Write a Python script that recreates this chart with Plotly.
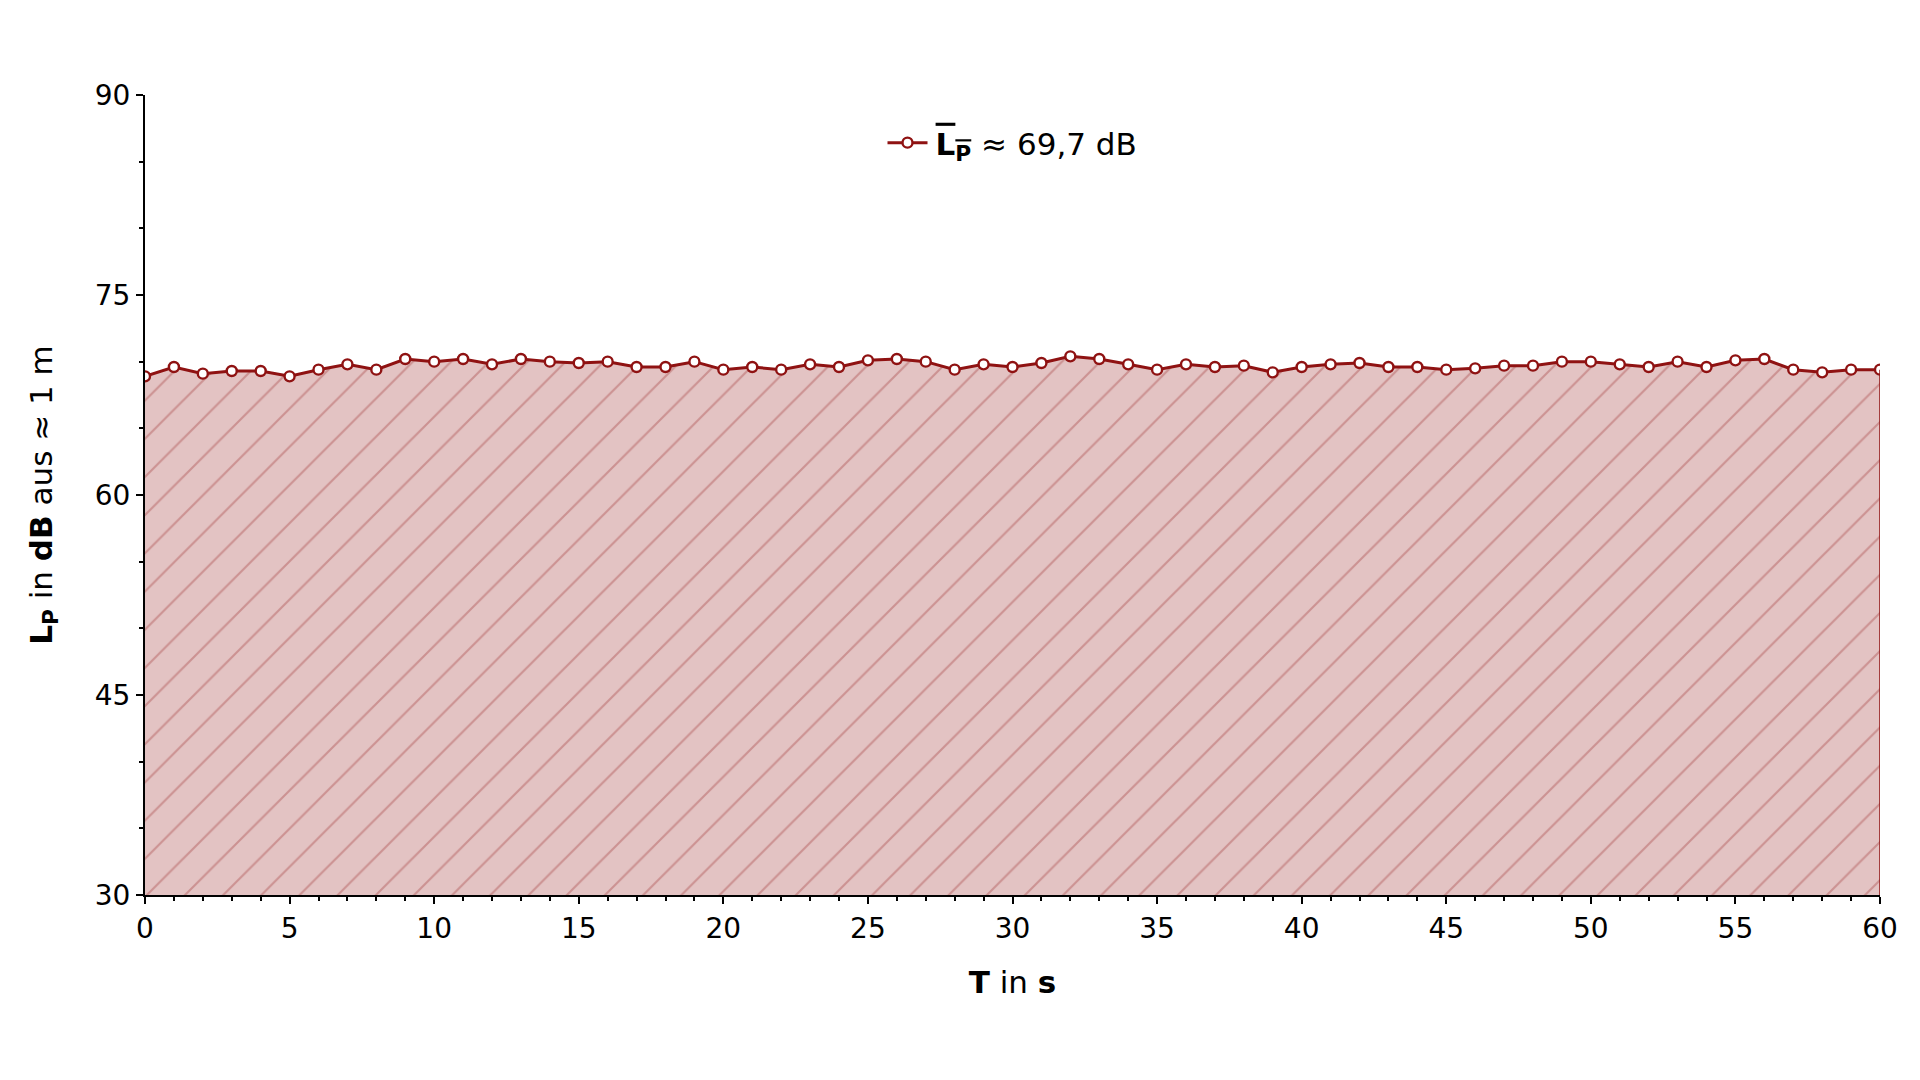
import plotly.graph_objects as go

# Schalldruckpegel ueber 60 s, jede Sekunde ein Messwert
zeit_s = list(range(0, 61))
pegel_db = [
    68.9, 69.6, 69.1, 69.3, 69.3, 68.9, 69.4, 69.8, 69.4, 70.2,
    70.0, 70.2, 69.8, 70.2, 70.0, 69.9, 70.0, 69.6, 69.6, 70.0,
    69.4, 69.6, 69.4, 69.8, 69.6, 70.1, 70.2, 70.0, 69.4, 69.8,
    69.6, 69.9, 70.4, 70.2, 69.8, 69.4, 69.8, 69.6, 69.7, 69.2,
    69.6, 69.8, 69.9, 69.6, 69.6, 69.4, 69.5, 69.7, 69.7, 70.0,
    70.0, 69.8, 69.6, 70.0, 69.6, 70.1, 70.2, 69.4, 69.2, 69.4,
    69.4,
]
mittel_label = '&#8202;<span style="text-decoration:overline"><b>L<sub>P</sub></b></span> ≈ 69,7 dB'

x_ticks = [0, 5, 10, 15, 20, 25, 30, 35, 40, 45, 50, 55, 60]
y_ticks = [30, 45, 60, 75, 90]

dunkelrot = "#8f1212"

fig = go.Figure()
# schraffierte Flaeche unter der Kurve (ohne Legende)
fig.add_trace(go.Scatter(
    x=zeit_s, y=pegel_db,
    mode="none",
    showlegend=False,
    fill="tozeroy",
    fillcolor="#e3c3c3",
    fillpattern=dict(shape="/", size=27, solidity=0.08,
                     fgcolor="#cc9292", bgcolor="#e3c3c3", fillmode="replace"),
    hoverinfo="skip",
))
fig.add_trace(go.Scatter(
    x=zeit_s, y=pegel_db,
    mode="lines+markers",
    name=mittel_label,
    line=dict(color=dunkelrot, width=3),
    marker=dict(symbol="circle", size=10, color="white",
                line=dict(color=dunkelrot, width=2.4)),
))

# rechte Kante der Flaeche
fig.add_shape(type="line", x0=zeit_s[-1], x1=zeit_s[-1], y0=y_ticks[0], y1=pegel_db[-1],
              xref="x", yref="y", line=dict(color=dunkelrot, width=1.5), layer="above")

fig.update_layout(
    width=1920, height=1080,
    margin=dict(l=137, r=48, t=87, b=193),
    paper_bgcolor="white", plot_bgcolor="white",
    font=dict(family="DejaVu Sans", size=28, color="black"),
    showlegend=True,
    legend=dict(x=0.5, y=0.94, xanchor="center", yanchor="middle",
                orientation="h", font=dict(size=31), bgcolor="rgba(0,0,0,0)",
                itemwidth=40),
    xaxis=dict(
        range=[0, 60], tickvals=x_ticks, showgrid=False, zeroline=False,
        showline=True, linecolor="black", linewidth=2,
        ticks="outside", ticklen=7, tickwidth=2, tickcolor="black",
        minor=dict(dtick=1, ticks="outside", ticklen=4, tickwidth=1.5, tickcolor="black"),
        tickfont=dict(size=28),
        title=dict(text="<b>T</b> in <b>s</b>", font=dict(size=31), standoff=28),
    ),
    yaxis=dict(
        range=[30, 90], tickvals=y_ticks, showgrid=False, zeroline=False,
        showline=True, linecolor="black", linewidth=2,
        ticks="outside", ticklen=7, tickwidth=2, tickcolor="black",
        minor=dict(dtick=5, ticks="outside", ticklen=4, tickwidth=1.5, tickcolor="black"),
        tickfont=dict(size=28),
        title=dict(text="<b>L<sub>P</sub></b> in <b>dB</b> aus ≈ 1 m",
                   font=dict(size=31), standoff=33),
    ),
)

fig.write_html("out.html")
